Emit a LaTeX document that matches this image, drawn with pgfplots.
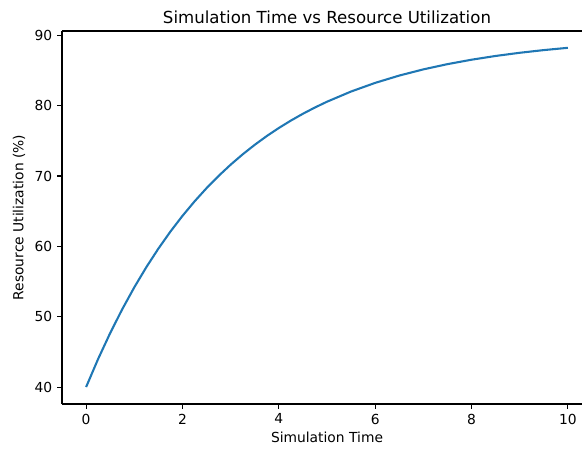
\documentclass[border=0pt]{standalone}
\usepackage{pgfplots}
\pgfplotsset{compat=1.18}
\usepackage{fontspec}
\setmainfont{DejaVu Sans}
\definecolor{mplblue}{HTML}{1F77B4}
\begin{document}
\begin{tikzpicture}[x=1bp,y=1bp]
\begin{axis}[
  at={(0,0)}, anchor=south west,
  scale only axis, width=381.6bp, height=268.6bp,
  xmin=-0.5, xmax=10.5, ymin=37.59, ymax=90.61,
  axis lines*=left,
  xtick={0,2,4,6,8,10}, ytick={40,50,60,70,80,90},
  tick align=outside,
  major tick length=3.5bp,
  every tick/.style={black, line width=0.8bp},
  axis line style={line width=0.8bp},
  ticklabel style={font=\fontsize{10}{12}\selectfont},
  /pgf/number format/assume math mode=true,
  title={Simulation Time vs Resource Utilization},
  title style={font=\fontsize{12}{14}\selectfont, yshift=-4bp},
  xlabel={Simulation Time}, ylabel={Resource Utilization (\%)},
  label style={font=\fontsize{10}{12}\selectfont},
  xlabel style={yshift=1.5bp},
  ylabel style={yshift=0bp},
  clip=false,
  extra description/.code={\draw[line width=0.8bp] (rel axis cs:0,1) -- (rel axis cs:1,1);},
]
\addplot[mplblue, line width=1.5bp] coordinates {
(0,40.000) (0.25,43.998) (0.5,47.676) (0.75,51.060) (1,54.173) (1.25,57.038)
(1.5,59.673) (1.75,62.098) (2,64.329) (2.25,66.382) (2.5,68.270) (2.75,70.007)
(3,71.606) (3.25,73.077) (3.5,74.430) (3.75,75.675) (4,76.820) (4.25,77.874)
(4.5,78.844) (4.75,79.736) (5,80.556) (5.5,82.006) (6,83.233) (6.5,84.272)
(7,85.152) (7.5,85.896) (8,86.526) (8.5,87.059) (9,87.511) (9.5,87.893) (10,88.217)
};
\end{axis}
\pgfresetboundingbox
\path (-44.64,-31.68) rectangle (374.4,290.9);
\end{tikzpicture}
\end{document}
